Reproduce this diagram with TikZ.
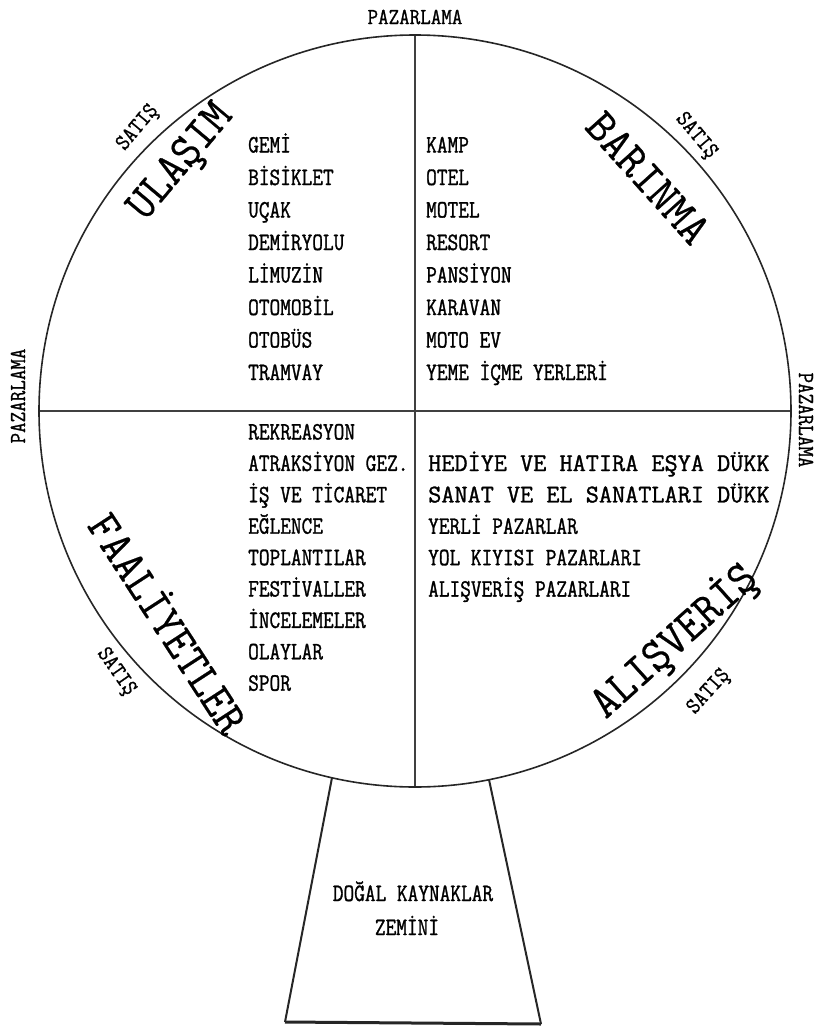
\documentclass[tikz,border=0pt]{standalone}
\usepackage{fontspec}
\newfontfamily\tw[FakeStretch=0.83,FakeBold=1.2]{Latin Modern Mono}
\newfontfamily\twide[FakeStretch=1.0,FakeBold=1.2]{Latin Modern Mono}
\newfontfamily\tsm[FakeStretch=0.89,FakeBold=1.0]{Latin Modern Mono}
\newfontfamily\tbig[FakeStretch=0.95,FakeBold=0.4]{Latin Modern Mono}
\begin{document}
\begin{tikzpicture}[x=1pt,y=-1pt,
  item/.style={anchor=base west,inner sep=0pt,font=\tw\fontsize{25}{25}\selectfont},
  itemw/.style={anchor=base west,inner sep=0pt,font=\twide\fontsize{25.5}{26}\selectfont},
  small/.style={inner sep=0pt,font=\tsm\fontsize{23}{23}\selectfont},
  big/.style={inner sep=0pt,font=\tbig\fontsize{47}{47}\selectfont},
  rim/.style={line width=1.6pt,draw=black!85},
  cross/.style={line width=2.6pt,draw=black!75},
  base/.style={line width=2pt,draw=black!85}]
\useasboundingbox (0,0) rectangle (822,1031);
\coordinate (c) at (415,411);
\coordinate (top) at (415,35);
\coordinate (bot) at (415,787);
\coordinate (lft) at (39,411);
\coordinate (rgt) at (791,411);
\draw[cross] (top) -- (bot);
\draw[cross] (lft) -- (rgt);
\draw[rim] (c) circle (376);
% base trapezoid
\coordinate (tl) at (332,777.7);
\coordinate (tr) at (489,779.6);
\coordinate (bl) at (285,1022);
\coordinate (br) at (541,1024);
\draw[base] (tl) -- (bl);
\draw[base] (tr) -- (br);
\draw[base,line width=3pt] (bl) -- (br);
\node[item,anchor=base] (dk) at (413,901) {DOĞAL KAYNAKLAR};
\node[item,anchor=base] (zm) at (407,935) {ZEMİNİ};
% PAZARLAMA labels
\node[small] (pt) at (415,17) {PAZARLAMA};
\node[small,rotate=90] (pl) at (18,396) {PAZARLAMA};
\node[small,rotate=-90] (pr) at (806,420) {PAZARLAMA};
% SATIŞ labels
\node[small,rotate=50] (s1) at (138,128) {SATIŞ};
\node[small,rotate=-50] (s2) at (696,136) {SATIŞ};
\node[small,rotate=-55] (s3) at (116,672) {SATIŞ};
\node[small,rotate=48] (s4) at (709,692) {SATIŞ};
% category labels
\node[big,rotate=50] (ul) at (182,163) {ULAŞIM};
\node[big,rotate=-48] (ba) at (648,178) {BARINMA};
\node[big,rotate=-57] (fa) at (170,622) {FAALİYETLER};
\node[big,rotate=42] (al) at (674,641) {ALIŞVERİŞ};
% lists
\foreach \t [count=\i] in {GEMİ,BİSİKLET,UÇAK,DEMİRYOLU,LİMUZİN,OTOMOBİL,OTOBÜS,TRAMVAY}
  \node[item] (a\i) at (248,{152.5+32.5*(\i-1)}) {\t};
\foreach \t [count=\i] in {KAMP,OTEL,MOTEL,RESORT,PANSİYON,KARAVAN,MOTO EV,YEME İÇME YERLERİ}
  \node[item] (b\i) at (426,{152.5+32.5*(\i-1)}) {\t};
\foreach \t [count=\i] in {REKREASYON,ATRAKSİYON GEZ.,İŞ VE TİCARET,EĞLENCE,TOPLANTILAR,FESTİVALLER,İNCELEMELER,OLAYLAR,SPOR}
  \node[item] (f\i) at (248,{439.5+31.4*(\i-1)}) {\t};
\node[itemw] (h1) at (428,471) {HEDİYE VE HATIRA EŞYA DÜKK};
\node[itemw] (h2) at (428,502.4) {SANAT VE EL SANATLARI DÜKK};
\node[item] (h3) at (428,533.8) {YERLİ PAZARLAR};
\node[item] (h4) at (428,565.2) {YOL KIYISI PAZARLARI};
\node[item] (h5) at (428,596.6) {ALIŞVERİŞ PAZARLARI};
\end{tikzpicture}
\end{document}
